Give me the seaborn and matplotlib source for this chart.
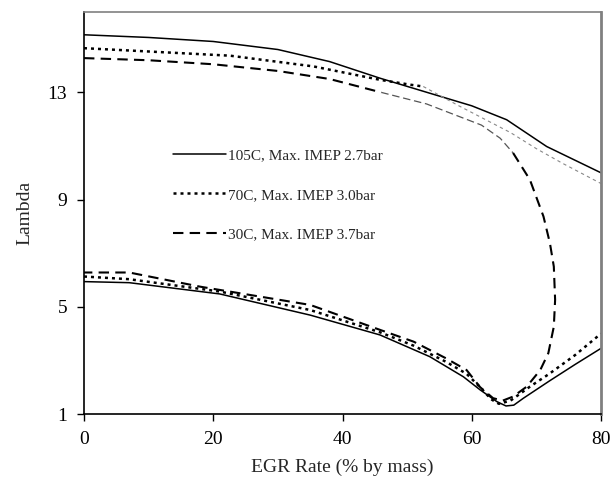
import matplotlib
matplotlib.use("Agg")
import matplotlib.pyplot as plt
import seaborn as sns
import pandas as pd
from matplotlib.lines import Line2D

# ---- data (EGR rate %, lambda) ----
labels = ["105C, Max. IMEP 2.7bar", "70C, Max. IMEP 3.0bar", "30C, Max. IMEP 3.7bar"]

# 105C upper and lower branches
s105_up_x = [0, 10, 20, 30, 38, 45.8, 53.5, 60, 65.4, 71.6, 80]
s105_up_y = [15.15, 15.05, 14.9, 14.6, 14.15, 13.53, 12.97, 12.5, 11.98, 10.98, 10.0]
s105_lo_x = [0, 7, 21, 35, 45.8, 53.5, 58.7, 61.3, 63.9, 65.3, 66.5, 68, 72, 76, 80]
s105_lo_y = [5.94, 5.9, 5.48, 4.69, 3.95, 3.14, 2.39, 1.9, 1.46, 1.3, 1.33, 1.59, 2.23, 2.85, 3.45]

# 70C upper (thick part, thin continuation) and lower branch
s70_up_x = [0, 9.7, 22.6, 35.5, 45.8, 50.4, 52.5]
s70_up_y = [14.65, 14.53, 14.37, 13.97, 13.47, 13.29, 13.22]
s70_ext_x = [52.5, 58, 62, 66, 70, 74, 80]
s70_ext_y = [13.22, 12.5, 12.0, 11.5, 10.9, 10.36, 9.6]
s70_lo_x = [0, 7, 21, 35, 45.8, 51, 56, 59.2, 61.3, 63, 64.2, 66, 69, 72, 76, 80]
s70_lo_y = [6.13, 6.03, 5.57, 4.88, 4.05, 3.55, 2.95, 2.5, 2.0, 1.55, 1.38, 1.5, 2.02, 2.5, 3.2, 4.0]

# 30C closed curve: upper branch, turn-around, lower branch back
s30_up_x = [0, 10, 20, 30, 38, 46]
s30_up_y = [14.28, 14.2, 14.05, 13.8, 13.5, 13.0]
s30_mid_x = [46, 53, 61.5, 64.4, 66.4]
s30_mid_y = [13.0, 12.57, 11.78, 11.29, 10.74]
s30_loop_x = [66.4, 69, 71.1, 72.1, 72.7, 72.9, 72.7, 71.85, 70.6, 68.5, 66.4, 64.8,
              63.3, 61.3, 59.2, 56, 51, 45.8, 35, 18, 7, 0]
s30_loop_y = [10.74, 9.74, 8.37, 7.37, 6.5, 5.26, 4.26, 3.27, 2.64, 2.02, 1.65, 1.5,
              1.59, 2.0, 2.64, 3.08, 3.7, 4.14, 5.07, 5.75, 6.28, 6.28]

sns.set_style("white")
plt.rcParams['font.family'] = ['Liberation Serif', 'DejaVu Serif']

fig = plt.figure(figsize=(6.13, 4.9), dpi=100)
ax = fig.add_axes([84/613, 76/490, 517/613, 402/490])

solid = dict(color="black", linestyle="-", linewidth=1.1)
dotted = dict(color="black", linestyle=(0, (1.2, 1.6)), linewidth=1.8)
dashed = dict(color="black", linestyle=(0, (5, 3)), linewidth=1.5)

def draw(xs, ys, **kw):
    df = pd.DataFrame({"x": xs, "y": ys})
    sns.lineplot(data=df, x="x", y="y", sort=False, estimator=None, ax=ax, **kw)

draw(s105_up_x, s105_up_y, **solid)
draw(s105_lo_x, s105_lo_y, **solid)
draw(s70_up_x, s70_up_y, **dotted)
draw(s70_ext_x, s70_ext_y, color="#888888", linestyle=(0, (3, 3)), linewidth=0.8)
draw(s70_lo_x, s70_lo_y, **dotted)
draw(s30_up_x, s30_up_y, **dashed)
draw(s30_mid_x, s30_mid_y, color="#555555", linestyle=(0, (6, 3)), linewidth=0.9)
draw(s30_loop_x, s30_loop_y, **dashed)

ax.set_xlim(0, 80)
ax.set_ylim(1, 16)
ax.set_xticks([0, 20, 40, 60, 80])
ax.set_yticks([1, 5, 9, 13])
ax.tick_params(axis="both", direction="out", length=5, width=1, colors="black",
               labelsize=14, left=True, bottom=True, pad=7)
ax.set_xlabel("EGR Rate (% by mass)", fontsize=14, labelpad=8)
ax.set_ylabel("Lambda", fontsize=14, labelpad=10)

for side in ["left", "bottom"]:
    ax.spines[side].set_color("black")
    ax.spines[side].set_linewidth(1.2)
ax.spines["top"].set_color("#808080")
ax.spines["top"].set_linewidth(1.2)
ax.spines["right"].set_color("#808080")
ax.spines["right"].set_linewidth(2)

handles = [Line2D([], [], **solid), Line2D([], [], **dotted), Line2D([], [], **dashed)]
ax.legend(handles, labels, loc="center left", bbox_to_anchor=(0.145, 0.545),
          frameon=False, fontsize=11, handlelength=3.5, handletextpad=0.15,
          labelspacing=1.7)

fig.savefig("out.png", dpi=100)
